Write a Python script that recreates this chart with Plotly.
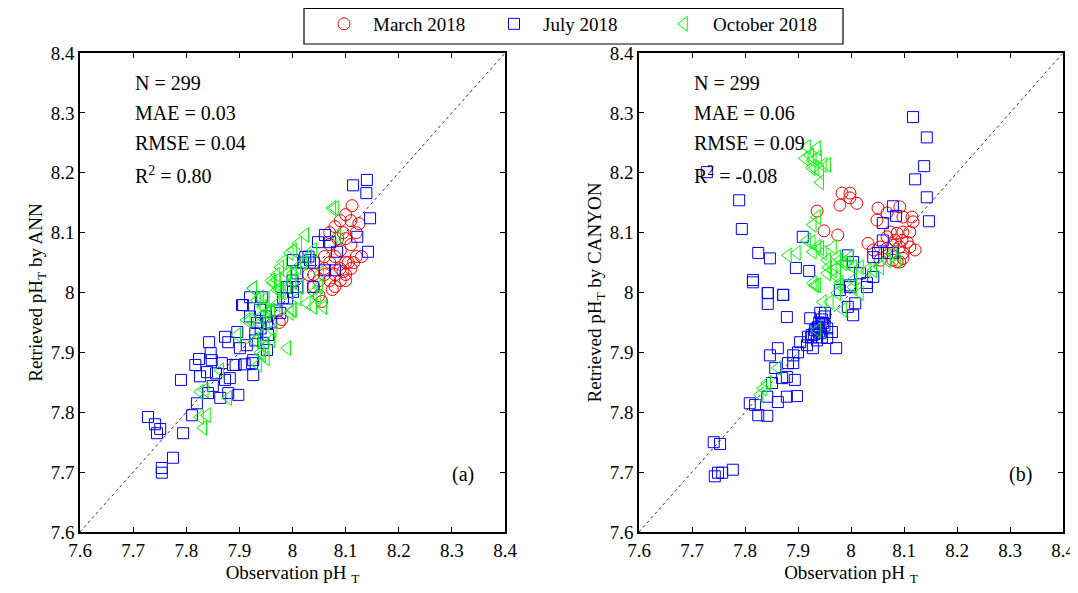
import plotly.graph_objects as go

# ---------------- data ----------------
# Panel (a): ANN
a_mar_x = [8.112, 8.10, 8.09, 8.08, 8.11, 8.095, 8.10, 8.11, 8.12, 8.13, 8.10, 8.09, 8.08, 8.07, 8.08, 8.075,
           8.06, 8.05, 8.04, 8.05, 8.12, 8.125, 8.09, 8.08, 8.07, 8.10, 8.11, 8.09, 8.10, 8.07, 8.085, 8.06,
           8.095, 8.105, 8.115, 8.03, 8.04, 7.975, 7.98, 8.055, 8.06, 8.07]
a_mar_y = [8.145, 8.13, 8.12, 8.11, 8.12, 8.10, 8.09, 8.08, 8.06, 8.06, 8.05, 8.04, 8.03, 8.02, 8.01, 8.005,
           8.03, 8.02, 8.01, 7.995, 8.10, 8.115, 8.07, 8.06, 8.05, 8.03, 8.04, 8.02, 8.02, 8.08, 8.09, 8.04,
           8.035, 8.05, 8.05, 8.03, 8.03, 7.95, 7.955, 7.985, 8.06, 8.10]

a_jul_x = [8.114, 8.140, 8.139, 8.146, 8.122, 8.142, 8.084, 8.061, 8.048, 8.071, 8.080, 8.061, 8.039, 8.033,
           8.024, 8.009, 8.001, 7.728, 7.741, 7.745, 7.751, 7.754, 7.754, 7.775, 7.794, 7.811, 7.820, 7.790,
           7.817, 7.824, 7.826, 7.839, 7.843, 7.846, 7.848, 7.850, 7.841, 7.856, 7.864, 7.867, 7.873, 7.879,
           7.879, 7.873, 7.882, 7.888, 7.893, 7.898, 7.901, 7.896, 7.907, 7.905, 7.914, 7.924, 7.926, 7.926,
           7.930, 7.920, 7.933, 7.939, 7.943, 7.945, 7.952, 7.954, 7.952, 7.977, 7.982, 8.001, 8.009, 7.990,
           7.94, 7.95, 7.96, 7.93, 7.97, 8.02, 8.03, 8.04, 7.99, 8.00, 7.92, 7.91]
a_jul_y = [8.179, 8.188, 8.166, 8.124, 8.093, 8.068, 8.068, 8.096, 8.084, 8.084, 8.037, 8.037, 8.009, 8.054,
           8.059, 8.032, 8.054, 7.792, 7.780, 7.765, 7.772, 7.707, 7.699, 7.724, 7.765, 7.795, 7.815, 7.854,
           7.879, 7.889, 7.860, 7.867, 7.917, 7.899, 7.887, 7.844, 7.832, 7.865, 7.824, 7.882, 7.926, 7.917,
           7.832, 7.854, 7.857, 7.879, 7.879, 7.829, 7.907, 7.934, 7.979, 7.979, 7.912, 7.882, 7.862, 7.887,
           7.932, 7.992, 7.949, 7.971, 7.992, 7.916, 7.904, 7.929, 7.949, 7.966, 7.991, 8.001, 8.009, 8.009,
           7.94, 7.96, 7.95, 7.92, 7.97, 8.05, 8.06, 8.05, 7.99, 8.02, 7.96, 7.88]

a_oct_x = [7.832, 7.839, 7.826, 7.826, 7.835, 7.879, 7.864, 7.896, 7.920, 7.926, 7.933, 7.935, 7.943, 7.948,
           7.945, 7.952, 7.963, 7.971, 7.990, 7.995, 8.001, 8.027, 8.039, 8.058, 7.939, 7.914, 7.939,
           8.075, 8.080, 8.024, 8.011, 8.001, 7.995, 7.982, 7.977, 8.039, 8.052, 8.084, 7.963, 7.971, 8.001,
           8.009, 7.990, 7.926, 7.939, 7.977, 8.014, 8.046,
           7.95, 7.96, 7.97, 7.98, 7.99, 8.00, 7.94, 7.95, 7.96, 7.97, 7.93, 7.94, 7.95, 7.96, 8.02, 8.03,
           8.00, 8.01, 8.04, 8.05]
a_oct_y = [7.774, 7.795, 7.792, 7.834, 7.837, 7.824, 7.870, 7.929, 7.954, 8.007, 7.987, 7.879, 7.896, 7.909,
           7.976, 7.966, 7.937, 8.004, 7.907, 7.966, 7.971, 7.982, 7.976, 7.976, 7.949, 7.954, 7.926,
           8.141, 8.141, 8.096, 8.082, 8.071, 8.066, 8.051, 8.042, 8.071, 8.032, 8.093, 8.016, 8.021, 8.032,
           8.042, 8.032, 8.007, 7.992, 8.004, 8.009, 7.992,
           7.95, 7.97, 7.98, 8.00, 8.01, 8.02, 7.96, 7.99, 8.02, 8.03, 7.92, 7.90, 7.89, 7.92, 8.05, 8.06,
           7.97, 7.99, 8.00, 8.01]

# Panel (b): CANYON
b_mar_x = [7.983, 7.998, 7.998, 8.011, 7.979, 7.936, 7.949, 7.975, 8.032, 8.051, 8.049, 8.068, 8.092, 8.098,
           8.115, 8.117, 8.074, 8.087, 8.098, 8.111, 8.068, 8.083, 8.096, 8.106, 8.111, 8.121, 8.092, 8.079,
           8.068, 8.055, 8.092, 8.087, 8.098, 8.055, 8.042, 8.098, 8.079]
b_mar_y = [8.166, 8.166, 8.158, 8.149, 8.146, 8.136, 8.103, 8.096, 8.082, 8.141, 8.121, 8.133, 8.143, 8.126,
           8.126, 8.118, 8.101, 8.099, 8.101, 8.101, 8.093, 8.087, 8.087, 8.084, 8.076, 8.071, 8.076, 8.079,
           8.074, 8.076, 8.051, 8.051, 8.057, 8.054, 8.071, 8.066, 8.054]

b_jul_x = [8.117, 8.143, 8.138, 8.121, 8.143, 8.147, 7.728, 7.789, 7.794, 7.825, 7.847, 7.896, 7.921, 7.909,
           7.815, 7.843, 7.872, 7.994, 8.004, 8.030, 8.042, 8.051, 8.060, 8.060, 8.079, 8.085, 8.068, 8.079,
           7.979, 7.998, 8.017, 8.042,
           7.815, 7.843, 7.843, 7.872, 7.879, 7.923, 7.942, 7.951, 7.964, 7.972, 8.004, 8.008, 7.994, 8.030,
           7.998, 7.904, 7.917, 7.926, 7.928, 7.936, 7.942, 7.947, 7.955, 7.938, 7.932, 7.919, 7.900, 7.891,
           7.881, 7.891, 7.879, 7.870, 7.862, 7.847, 7.857, 7.851, 7.842, 7.862, 7.879, 7.898, 7.809, 7.819,
           7.825, 7.842, 7.741, 7.753, 7.743, 7.749, 7.757, 7.777, 7.894,
           7.94, 7.945, 7.95, 7.935, 7.93, 7.925, 7.94, 7.95, 7.955, 7.945]
b_jul_y = [8.293, 8.259, 8.211, 8.189, 8.159, 8.119, 8.201, 8.154, 8.106, 8.066, 8.057, 8.041, 8.036, 8.093,
           8.021, 7.999, 7.996, 8.062, 8.051, 8.016, 8.059, 8.066, 8.116, 8.087, 8.144, 8.128, 8.066, 8.066,
           8.004, 8.009, 8.032, 8.026,
           8.017, 7.999, 7.981, 7.996, 7.959, 7.957, 7.966, 7.966, 7.934, 7.907, 7.962, 7.982, 7.976, 8.009,
           8.012, 7.917, 7.912, 7.929, 7.907, 7.920, 7.932, 7.949, 7.924, 7.942, 7.937, 7.926, 7.900, 7.895,
           7.882, 7.882, 7.859, 7.857, 7.907, 7.895, 7.874, 7.849, 7.826, 7.817, 7.826, 7.827, 7.815, 7.812,
           7.795, 7.794, 7.750, 7.747, 7.693, 7.699, 7.699, 7.704, 7.854,
           7.95, 7.955, 7.96, 7.94, 7.93, 7.925, 7.935, 7.945, 7.94, 7.925]

b_oct_x = [7.917, 7.936, 7.923, 7.938, 7.913, 7.928, 7.947, 7.932, 7.955, 7.926, 7.942, 7.942, 7.936, 7.928,
           7.917, 7.926, 7.936, 7.942, 7.928, 7.947, 7.881, 7.898, 7.966, 7.974, 7.955, 7.979, 7.992, 8.004,
           7.966, 7.974, 7.955, 7.928, 8.017, 8.030, 8.042, 8.055, 8.079, 8.087, 8.068, 7.998, 7.985, 7.974,
           7.957, 8.004, 7.979, 7.936,
           7.932, 7.947, 7.960, 7.974, 7.979, 7.985, 8.017, 8.004, 7.936, 7.862, 7.842, 7.828, 7.834]
b_oct_y = [8.243, 8.241, 8.229, 8.226, 8.224, 8.221, 8.213, 8.208, 8.213, 8.208, 8.201, 8.184, 8.126, 8.113,
           8.087, 8.084, 8.076, 8.074, 8.068, 8.066, 8.062, 8.066, 8.076, 8.059, 8.054, 8.054, 8.049, 8.042,
           8.037, 8.026, 8.032, 8.016, 8.042, 8.037, 8.037, 8.042, 8.066, 8.054, 8.054, 8.059, 8.049, 8.042,
           8.042, 8.021, 8.016, 8.012,
           8.012, 7.984, 7.984, 7.999, 8.012, 7.971, 7.999, 8.009, 7.937, 7.874, 7.849, 7.829, 7.840]

series_names = ["March 2018", "July 2018", "October 2018"]
series_colors = ["#ff0000", "#0000ff", "#00ff00"]
series_symbols = ["circle-open", "square-open", "triangle-left-open"]
series_sizes = [12, 11, 13]

tick_vals = [7.6, 7.7, 7.8, 7.9, 8.0, 8.1, 8.2, 8.3, 8.4]
tick_text = ["7.6", "7.7", "7.8", "7.9", "8", "8.1", "8.2", "8.3", "8.4"]
axis_range = [7.6, 8.4]

stats_a = ["N = 299", "MAE = 0.03", "RMSE = 0.04", "R<sup>2</sup> = 0.80"]
stats_b = ["N = 299", "MAE = 0.06", "RMSE = 0.09", "R<sup>2</sup> = -0.08"]
y_titles = ["Retrieved pH<sub>T</sub> by ANN", "Retrieved pH<sub>T</sub> by CANYON"]
x_title = "Observation pH <sub>T</sub>"
panel_labels = ["(a)", "(b)"]

FONT = "Liberation Serif, Times New Roman, serif"

# ---------------- figure ----------------
fig = go.Figure()

panels = [
    ("x", "y", [(a_mar_x, a_mar_y), (a_jul_x, a_jul_y), (a_oct_x, a_oct_y)]),
    ("x2", "y2", [(b_mar_x, b_mar_y), (b_jul_x, b_jul_y), (b_oct_x, b_oct_y)]),
]

for pi, (xa, ya, data) in enumerate(panels):
    for si, (xs, ys) in enumerate(data):
        fig.add_trace(go.Scatter(
            x=xs, y=ys, mode="markers", xaxis=xa, yaxis=ya,
            name=series_names[si], legendgroup=series_names[si], showlegend=(pi == 0),
            marker=dict(symbol=series_symbols[si], size=series_sizes[si],
                        color=series_colors[si], line=dict(width=1, color=series_colors[si])),
        ))
    # 1:1 line across the axis range
    fig.add_shape(type="line", xref=xa, yref=ya, x0=axis_range[0], y0=axis_range[0],
                  x1=axis_range[1], y1=axis_range[1],
                  line=dict(color="black", width=0.8, dash="dot"), layer="below")

W, H = 1078, 593
OFF = 8  # page body margin offset of the rendered figure
def px_x(p):
    return (p - OFF) / W
def px_y(p):
    return 1 - (p - OFF) / H

x_doms = [[px_x(80), px_x(505)], [px_x(639), px_x(1063)]]
y_dom = [px_y(532), px_y(53)]

axis_common = dict(
    range=axis_range, tickvals=tick_vals, ticktext=tick_text,
    ticks="inside", ticklen=5, tickwidth=1, tickcolor="black",
    showline=True, linecolor="black", linewidth=1.5, mirror="ticks",
    showgrid=False, zeroline=False, automargin=False,
    tickfont=dict(family=FONT, size=19, color="black"),
)

layout = dict(
    width=W, height=H, plot_bgcolor="white", paper_bgcolor="white",
    margin=dict(l=0, r=0, t=0, b=0, autoexpand=False),
    font=dict(family=FONT, color="black"),
    legend=dict(orientation="h", x=px_x(315), xanchor="left", y=px_y(5), yanchor="top",
                borderwidth=0, bgcolor="rgba(0,0,0,0)",
                font=dict(family=FONT, size=19, color="black"),
                entrywidth=107, entrywidthmode="pixels", itemwidth=48),
)
for i, (xk, yk) in enumerate([("xaxis", "yaxis"), ("xaxis2", "yaxis2")]):
    layout[xk] = dict(axis_common, domain=x_doms[i], anchor="y" if i == 0 else "y2",
                      title=dict(text=x_title, font=dict(family=FONT, size=19), standoff=6))
    layout[yk] = dict(axis_common, domain=y_dom, anchor="x" if i == 0 else "x2",
                      title=dict(text=y_titles[i], font=dict(family=FONT, size=19), standoff=3))
fig.update_layout(**layout)

# legend frame
fig.add_shape(type="rect", xref="paper", yref="paper", x0=px_x(304), x1=px_x(843),
              y0=px_y(44), y1=px_y(8.5), line=dict(color="black", width=1.2), layer="below")

annots = []
stat_ys = [0.937, 0.875, 0.812, 0.745]
for i, stats in enumerate([stats_a, stats_b]):
    xr = "x domain" if i == 0 else "x2 domain"
    yr = "y domain" if i == 0 else "y2 domain"
    for s, yy in zip(stats, stat_ys):
        annots.append(dict(text=s, xref=xr, yref=yr, x=0.125, y=yy, xanchor="left", yanchor="middle",
                           showarrow=False, font=dict(family=FONT, size=20, color="black")))
    annots.append(dict(text=panel_labels[i], xref=xr, yref=yr, x=0.90, y=0.119, xanchor="center",
                       yanchor="middle", showarrow=False, font=dict(family=FONT, size=20, color="black")))
fig.update_layout(annotations=annots)

fig.write_html("out.html")
